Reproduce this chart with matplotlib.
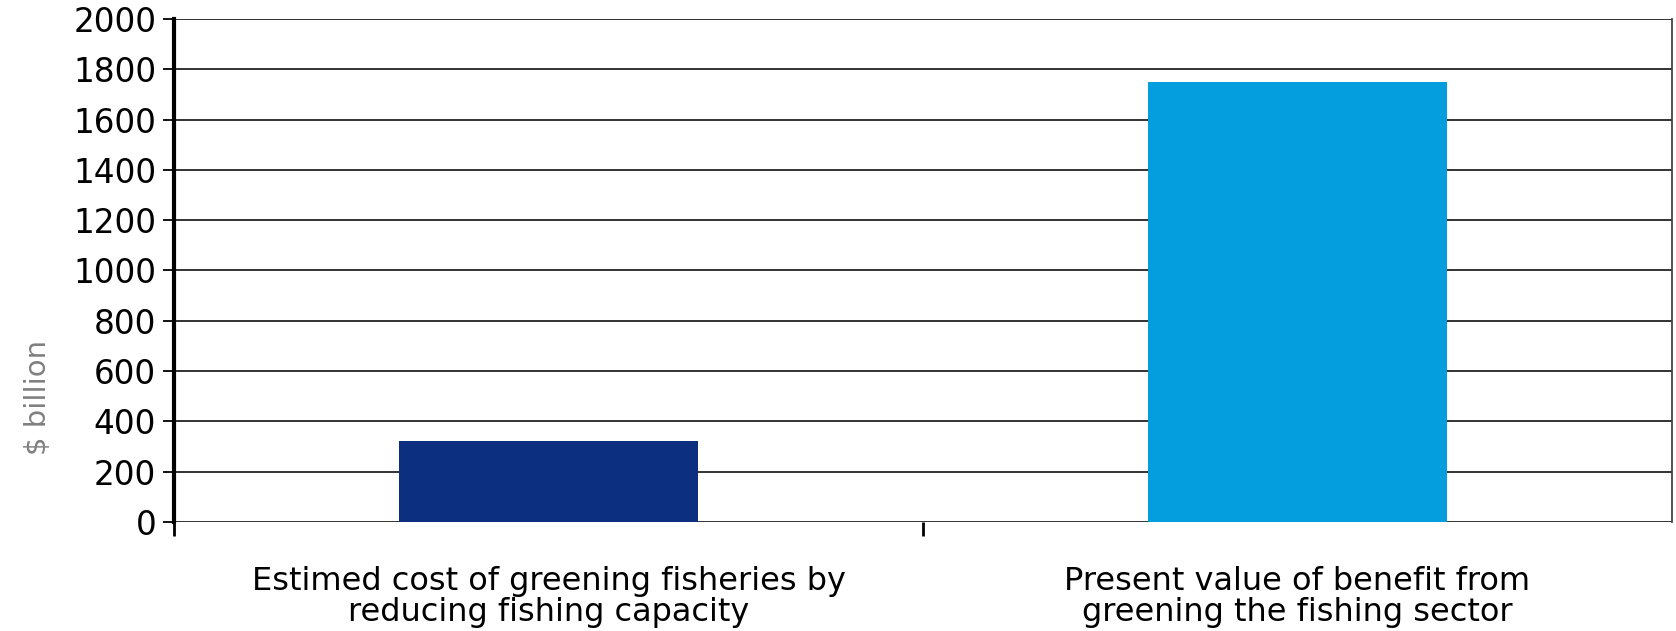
import matplotlib
matplotlib.use("Agg")
import matplotlib.pyplot as plt

categories = ["Estimed cost of greening fisheries by\nreducing fishing capacity",
              "Present value of benefit from\ngreening the fishing sector"]
values = [320, 1750]
colors = ["#0c2f80", "#049ede"]
yticks = list(range(0, 2001, 200))

plt.rcParams["font.family"] = ["DejaVu Sans"]
fig = plt.figure(figsize=(16.76, 6.31), dpi=100)
ax = fig.add_axes([0.104, 0.173, 0.8935, 0.797])

ax.bar(range(len(values)), values, width=0.4, color=colors, zorder=3)

ax.set_ylim(0, 2000)
ax.set_xlim(-0.5, 1.5)
ax.set_yticks(yticks)
ax.set_yticklabels([str(t) for t in yticks], fontsize=23.5)
ax.yaxis.grid(True, color="#222222", linewidth=1.3, zorder=0)

# category borders as major ticks, names as minor ticks
ax.set_xticks([-0.5, 0.5])
ax.set_xticklabels(["", ""])
ax.set_xticks([0, 1], minor=True)
ax.set_xticklabels(categories, minor=True, fontsize=23, linespacing=1.0)
ax.tick_params(axis="x", which="minor", length=0, pad=32)
ax.tick_params(axis="x", which="major", length=10, width=2, direction="out")
ax.tick_params(axis="y", length=8, width=1.3, pad=5)

ax.set_ylabel("$ billion", fontsize=21, color="#808080")
ax.yaxis.set_label_coords(-0.082, 0.247)

for s in ["top", "bottom"]:
    ax.spines[s].set_visible(False)
ax.spines["left"].set_linewidth(3)
ax.spines["right"].set_linewidth(1.3)
ax.spines["right"].set_color("#444444")

plt.savefig("out.png", dpi=100)
